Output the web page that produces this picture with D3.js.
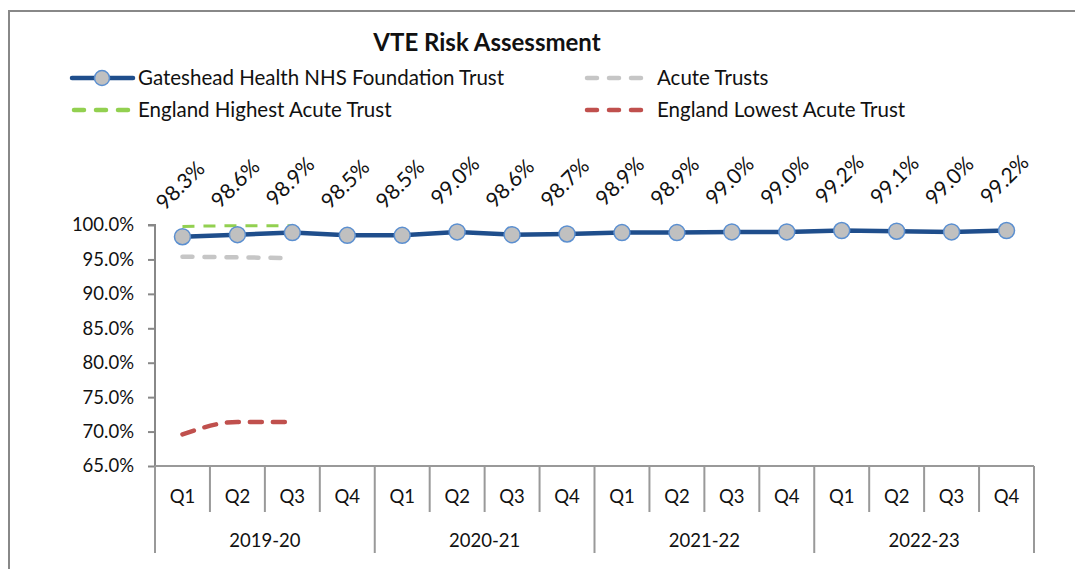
<!DOCTYPE html>
<html>
<head>
<meta charset="utf-8">
<script src="https://cdn.jsdelivr.net/npm/d3@7"></script>
<style>
  body { margin: 0; background: #fff; }
  svg text { font-family: Lato, "Open Sans", sans-serif; fill: #111; }
</style>
</head>
<body>
<svg id="chart" width="1075" height="569"></svg>
<script>
// quarters and financial years
const quarters = ["Q1", "Q2", "Q3", "Q4"];
const years = ["2019-20", "2020-21", "2021-22", "2022-23"];

// series values (percent)
const gateshead = [98.3, 98.6, 98.9, 98.5, 98.5, 99.0, 98.6, 98.7, 98.9, 98.9, 99.0, 99.0, 99.2, 99.1, 99.0, 99.2];
const acuteTrusts = [95.4, 95.3, 95.2];
const englandHighest = [99.8, 99.9, 99.9];
const englandLowest = [69.6, 71.4, 71.4];

const yTicks = [65, 70, 75, 80, 85, 90, 95, 100];

// one entry per quarter
const cats = years.flatMap(y => quarters.map(q => y + " " + q));

const svg = d3.select("#chart");

// outer frame
svg.append("rect")
  .attr("x", 9).attr("y", 11)
  .attr("width", 1100).attr("height", 600)
  .attr("fill", "none").attr("stroke", "#888").attr("stroke-width", 2);

const plotLeft = 155, plotRight = 1034, plotTop = 225, plotBottom = 466;

const x = d3.scaleBand().domain(cats).range([plotLeft, plotRight]);
const y = d3.scaleLinear().domain([65, 100]).range([plotBottom, plotTop]);
const cx = i => x(cats[i]) + x.bandwidth() / 2;

// title
svg.append("text")
  .attr("x", 487).attr("y", 51)
  .attr("text-anchor", "middle")
  .attr("font-size", 24).attr("font-weight", "bold")
  .text("VTE Risk Assessment");

// y axis
const yAxis = svg.append("g")
  .attr("transform", `translate(${plotLeft},0)`)
  .call(d3.axisLeft(y).tickValues(yTicks).tickSize(7).tickPadding(14)
    .tickFormat(d => d3.format(".1f")(d) + "%"));
yAxis.select(".domain").attr("stroke", "#888").attr("stroke-width", 2).attr("d", `M-7,${plotTop}H0V${plotBottom}`);
yAxis.selectAll(".tick line").attr("stroke", "#888").attr("stroke-width", 2);
yAxis.selectAll(".tick text").attr("font-size", 18.5).attr("font-family", "Lato, sans-serif").attr("fill", "#111");

// x axis: baseline, quarter dividers, year dividers
const axisColor = "#999";
svg.append("line")
  .attr("x1", plotLeft).attr("x2", plotRight).attr("y1", plotBottom).attr("y2", plotBottom)
  .attr("stroke", axisColor).attr("stroke-width", 2);

cats.forEach((c, i) => {
  const xl = x(c);
  const yearStart = i % 4 === 0;
  svg.append("line")
    .attr("x1", xl).attr("x2", xl)
    .attr("y1", plotBottom).attr("y2", yearStart ? 553 : 512)
    .attr("stroke", axisColor).attr("stroke-width", 2);
  svg.append("text")
    .attr("x", cx(i)).attr("y", 503)
    .attr("text-anchor", "middle").attr("font-size", 18.5)
    .text(quarters[i % 4]);
});
svg.append("line")
  .attr("x1", plotRight).attr("x2", plotRight).attr("y1", plotBottom).attr("y2", 553)
  .attr("stroke", axisColor).attr("stroke-width", 2);

years.forEach((yr, j) => {
  const x0 = x(cats[j * 4]);
  const x1 = x(cats[j * 4 + 3]) + x.bandwidth();
  svg.append("text")
    .attr("x", (x0 + x1) / 2).attr("y", 547)
    .attr("text-anchor", "middle").attr("font-size", 18.5)
    .text(yr);
});

// comparison series
const line = d3.line().x((d, i) => cx(i)).y(d => y(d));
const smooth = d3.line().x((d, i) => cx(i)).y(d => y(d)).curve(d3.curveMonotoneX);

svg.append("path").datum(englandHighest)
  .attr("d", line).attr("fill", "none")
  .attr("stroke", "#92d050").attr("stroke-width", 3)
  .attr("stroke-dasharray", "12,9");

svg.append("path").datum(acuteTrusts)
  .attr("d", line).attr("fill", "none")
  .attr("stroke", "#c6c6c6").attr("stroke-width", 4.5)
  .attr("stroke-linecap", "round")
  .attr("stroke-dasharray", "10,12");

svg.append("path").datum(englandLowest)
  .attr("d", smooth).attr("fill", "none")
  .attr("stroke", "#c0504d").attr("stroke-width", 4.5)
  .attr("stroke-linecap", "round")
  .attr("stroke-dasharray", "12,11");

// main series
svg.append("path").datum(gateshead)
  .attr("d", line).attr("fill", "none")
  .attr("stroke", "#1f4e8c").attr("stroke-width", 4.5);

svg.selectAll("circle.pt").data(gateshead).join("circle")
  .attr("class", "pt")
  .attr("cx", (d, i) => cx(i)).attr("cy", d => y(d))
  .attr("r", 8)
  .attr("fill", "#c0c0c0").attr("stroke", "#5b8fd0").attr("stroke-width", 1.5);

// data labels
svg.selectAll("text.lbl").data(gateshead).join("text")
  .attr("class", "lbl")
  .attr("text-anchor", "middle")
  .attr("font-size", 21)
  .attr("transform", (d, i) => `translate(${cx(i) + 3},${y(d) - 46}) rotate(-45)`)
  .text(d => d3.format(".1f")(d) + "%");

// legend
const legend = [
  { label: "Gateshead Health NHS Foundation Trust", x: 72, y: 78, tx: 138, color: "#1f4e8c", kind: "marker" },
  { label: "Acute Trusts", x: 585, y: 78, tx: 657, color: "#c6c6c6", kind: "dash" },
  { label: "England Highest Acute Trust", x: 72, y: 110, tx: 138, color: "#92d050", kind: "dash" },
  { label: "England Lowest Acute Trust", x: 585, y: 110, tx: 657, color: "#c0504d", kind: "dash" }
];
legend.forEach(l => {
  const g = svg.append("g");
  if (l.kind === "marker") {
    g.append("line").attr("x1", l.x).attr("x2", l.x + 61).attr("y1", l.y).attr("y2", l.y)
      .attr("stroke", l.color).attr("stroke-width", 4.5).attr("stroke-linecap", "round");
    g.append("circle").attr("cx", l.x + 30).attr("cy", l.y).attr("r", 7.5)
      .attr("fill", "#c0c0c0").attr("stroke", "#5b8fd0").attr("stroke-width", 1.5);
  } else {
    g.append("line").attr("x1", l.x + 2).attr("x2", l.x + 58).attr("y1", l.y).attr("y2", l.y)
      .attr("stroke", l.color).attr("stroke-width", 4.5).attr("stroke-linecap", "round")
      .attr("stroke-dasharray", "10,12");
  }
  g.append("text").attr("x", l.tx).attr("y", l.y + 7)
    .attr("font-size", 20.5).text(l.label);
});
</script>
</body>
</html>
